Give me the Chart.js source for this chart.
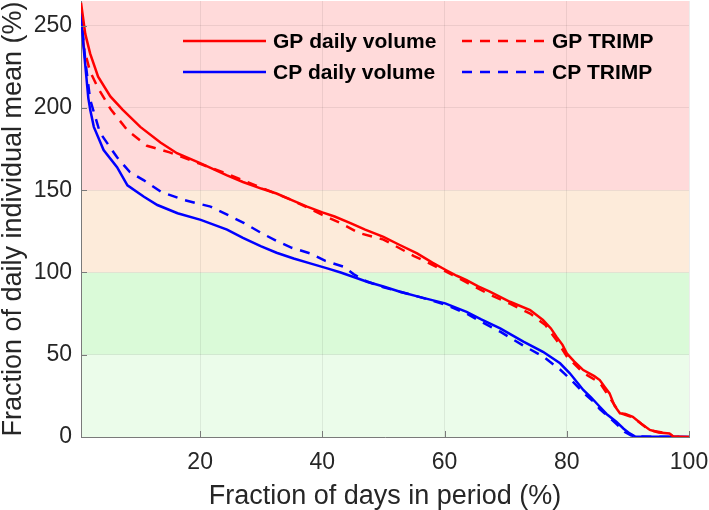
<!DOCTYPE html>
<html>
<head>
<meta charset="utf-8">
<script src="https://cdn.jsdelivr.net/npm/chart.js@4.4.1/dist/chart.umd.min.js"></script>
<style>
  html, body { margin: 0; padding: 0; background: #fff; }
  #wrap { width: 709px; height: 510px; }
</style>
</head>
<body>
<div id="wrap"><canvas id="curveChart" width="709" height="510"></canvas></div>
<script>
// values: [fraction of days (%), fraction of mean (%)]
const gpVolume = [[0.5,264],[1.2,245],[2,233],[3.3,219],[5.3,207],[7.3,199],[10.2,188.5],[13.5,179],[16.2,172.5],
  [20,166.5],[24.4,159],[27,155],[30,151],[32.5,148],[35,144],[37.5,140],[40,136.5],[42,134],[44.6,130],[47,126],
  [50,121.7],[52.5,117],[55.5,111.6],[58,106],[60.2,101.5],[62,98],[63.6,95.4],[65.5,91.5],[67.4,88.3],[70.7,82.2],
  [74,77.2],[76.1,71.1],[77.4,66],[78.3,61],[79.3,56],[80,50.8],[81.2,46],[82.7,40.7],[84.5,37],[85.4,34.6],
  [86.3,30],[87,26.5],[87.8,19],[88.7,14.4],[89.6,14],[90.8,12.3],[92.2,8],[93.6,4.3],[95,2.8],[96.8,2.2],[97.4,0.3],[100,0]];
const gpTrimp = [[0.5,252],[1,236],[2,222],[3.3,212],[5.4,199],[8.2,186],[11.3,177],[15,173],[20,166],[24.4,160],
  [30,151.5],[35,144],[40,135],[43,130],[46,124],[50,120],[55,110],[60,101],[63.6,94],[67.4,86.5],[70.7,81],
  [74,75],[76.5,68],[78.3,59],[80,49],[82.7,39],[85.4,33],[87,24],[88.7,14.5],[90.8,12],[93.6,4],[96.8,2],[97.4,0.3],[100,0]];
const cpVolume = [[0.5,258],[0.9,238],[1.7,206],[2,199],[2.6,188.5],[4.2,174.4],[6.4,164],[8.1,153],[10.8,146],
  [13,141],[16.3,136],[20.1,132],[24.4,126],[27,121],[29.9,116],[32.5,112],[35.3,108.5],[38,105.5],[40.8,102.5],
  [43,100],[45.7,96.5],[47.3,94.4],[50,91.5],[52.7,88.3],[56,85],[60.1,81.2],[63.6,76.1],[66,71.5],[69.1,66],
  [72.9,58],[76.1,51.8],[78.9,44.8],[80.5,38.7],[82.7,28.6],[84,24],[85.4,18.4],[86.5,14],[88.1,9.3],[89.3,5],
  [90.3,2.2],[91.2,0.3],[100,0]];
const cpTrimp = [[0.5,258],[1.2,229],[2,205],[3.6,185],[6.4,170],[8.5,161],[10.8,156],[13.6,149],[17.4,144],
  [21.7,140],[24.5,135],[27.2,130],[30,124],[32.6,119],[35,115],[38,111.6],[40.5,107],[43.5,103.5],[45.1,99],
  [47.3,94.5],[50,91],[53,88],[56,85],[60.1,80.5],[63.6,75],[66,70],[69.1,64],[72.9,55.5],[76.1,49],[78.9,41],
  [80.5,35.5],[82.7,27],[84.5,21],[85.4,17],[88.1,8],[89.5,3],[90.5,1],[91.2,0.3],[100,0]];

const xTicks = [20, 40, 60, 80, 100];
const yTicks = [0, 50, 100, 150, 200, 250];
// shaded zones: [from, to, colour]
const zones = [[0, 50, '#ebfcea'], [50, 100, '#dafad8'], [100, 150, '#fdebda'], [150, 265, '#ffdada']];

const txt = '#262626';
const pts = arr => arr.map(p => ({x: p[0], y: p[1]}));

const zonePlugin = {
  id: 'zones',
  beforeDraw(chart){
    const {ctx, chartArea: a, scales: {y}} = chart;
    ctx.save();
    zones.forEach(z => {
      const top = y.getPixelForValue(z[1]), bot = y.getPixelForValue(z[0]);
      ctx.fillStyle = z[2];
      ctx.fillRect(a.left, top, a.right - a.left, bot - top);
    });
    ctx.restore();
  }
};

// matlab style inward ticks + legend inside the axes
const extrasPlugin = {
  id: 'extras',
  afterDraw(chart){
    const {ctx, chartArea: a, scales: {x, y}} = chart;
    ctx.save();
    ctx.strokeStyle = '#7a7a7a';
    ctx.lineWidth = 1;
    xTicks.forEach(v => {
      const px = Math.round(x.getPixelForValue(v)) + 0.5;
      ctx.beginPath(); ctx.moveTo(px, a.bottom); ctx.lineTo(px, a.bottom - 6); ctx.stroke();
    });
    yTicks.forEach(v => {
      const py = Math.round(y.getPixelForValue(v)) + 0.5;
      ctx.beginPath(); ctx.moveTo(a.left, py); ctx.lineTo(a.left + 6, py); ctx.stroke();
    });

    const ds = chart.data.datasets;
    const cols = [a.left + 102, a.left + 381];
    const rows = [a.top + 40, a.top + 71];
    const order = [[0, 0, 0], [2, 1, 0], [1, 0, 1], [3, 1, 1]]; // dataset, col, row
    ctx.font = 'bold 21px "Liberation Sans", Arial, sans-serif';
    ctx.textBaseline = 'middle';
    order.forEach(o => {
      const d = ds[o[0]], lx = cols[o[1]], ly = rows[o[2]];
      ctx.strokeStyle = d.borderColor;
      ctx.lineWidth = d.borderWidth;
      ctx.setLineDash(d.borderDash || []);
      ctx.beginPath(); ctx.moveTo(lx, ly); ctx.lineTo(lx + 83, ly); ctx.stroke();
      ctx.setLineDash([]);
      ctx.fillStyle = '#000';
      ctx.fillText(d.label, lx + 90, ly + 1);
    });
    ctx.restore();
  }
};

const noPad = s => { s.paddingLeft = 0; s.paddingRight = 0; s.paddingTop = 0; s.paddingBottom = 0; };

const ctx = document.getElementById('curveChart').getContext('2d');
new Chart(ctx, {
  type: 'line',
  data: {
    datasets: [
      { label: 'GP daily volume', data: pts(gpVolume), borderColor: '#ff0000', borderWidth: 2.5 },
      { label: 'CP daily volume', data: pts(cpVolume), borderColor: '#0000ff', borderWidth: 2.5 },
      { label: 'GP TRIMP', data: pts(gpTrimp), borderColor: '#ff0000', borderWidth: 2.5, borderDash: [10, 8] },
      { label: 'CP TRIMP', data: pts(cpTrimp), borderColor: '#0000ff', borderWidth: 2.5, borderDash: [10, 8] }
    ]
  },
  options: {
    responsive: false,
    animation: false,
    devicePixelRatio: 1,
    elements: { point: { radius: 0 }, line: { tension: 0, fill: false } },
    layout: { padding: { top: 1, right: 20, left: 0, bottom: 0 } },
    plugins: { legend: { display: false }, tooltip: { enabled: false } },
    scales: {
      x: {
        type: 'linear', min: 0.5, max: 100,
        afterBuildTicks: s => { s.ticks = xTicks.map(v => ({value: v})); },
        afterFit: s => { s.height = 73; noPad(s); },
        grid: { color: 'rgba(0,0,0,0.07)', drawTicks: false },
        border: { color: '#7a7a7a', width: 1 },
        ticks: { color: txt, padding: 12, font: { family: '"Liberation Sans", Arial', size: 23 } },
        title: { display: true, text: 'Fraction of days in period (%)', color: txt,
          font: { family: '"Liberation Sans", Arial', size: 27, lineHeight: 1 }, padding: { top: 8, bottom: 0 } }
      },
      y: {
        min: 0, max: 265,
        afterBuildTicks: s => { s.ticks = yTicks.map(v => ({value: v})); },
        afterFit: s => { s.width = 81; noPad(s); },
        grid: { color: 'rgba(0,0,0,0.07)', drawTicks: false },
        border: { color: '#7a7a7a', width: 1 },
        ticks: { color: txt, padding: 9, font: { family: '"Liberation Sans", Arial', size: 23 } },
        title: { display: true, text: 'Fraction of daily individual mean (%)', color: txt,
          font: { family: '"Liberation Sans", Arial', size: 27, lineHeight: 1 }, padding: 0 }
      }
    }
  },
  plugins: [zonePlugin, extrasPlugin]
});
</script>
</body>
</html>
